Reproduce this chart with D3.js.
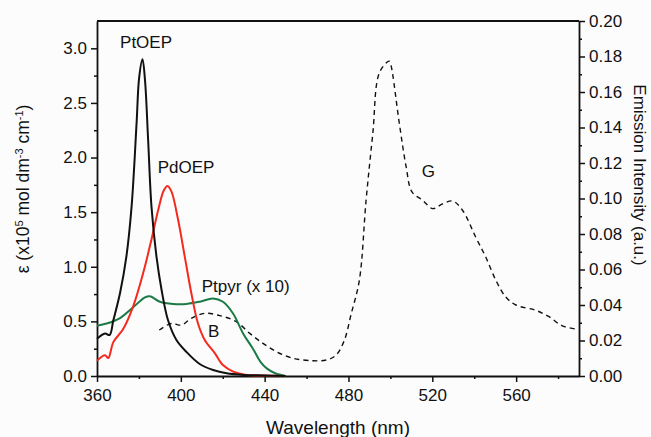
<!DOCTYPE html>
<html>
<head>
<meta charset="utf-8">
<script src="https://cdn.jsdelivr.net/npm/d3@7"></script>
<style>
  body { margin: 0; background: #fcfcfc; }
  text { font-family: "Liberation Sans", Arial, sans-serif; fill: #111; }
</style>
</head>
<body>
<script>
// PtOEP absorption (x10^5 mol dm-3 cm-1)
const ptoepWl = [360, 363.8, 366, 367.8, 371, 374, 376.5, 378.9, 380.1, 381.7, 382.9, 384.4, 386, 388.4, 390.8, 393.9, 397.9, 402.7, 409, 415.4, 421.8, 430, 440, 450];
const ptoepEps = [0.34, 0.39, 0.375, 0.51, 0.76, 1.09, 1.55, 2.32, 2.73, 2.90, 2.71, 2.16, 1.55, 1.09, 0.79, 0.51, 0.33, 0.22, 0.11, 0.055, 0.025, 0.01, 0.005, 0];

// PdOEP absorption
const pdoepWl = [360, 363.8, 365.4, 367.8, 372.5, 377.3, 382, 386, 389.2, 391.9, 393.6, 395.5, 398.7, 401.9, 405, 408.2, 411.4, 416.2, 420.1, 425, 431.3, 440, 450];
const pdoepEps = [0.14, 0.19, 0.165, 0.31, 0.43, 0.64, 0.94, 1.25, 1.52, 1.70, 1.74, 1.69, 1.43, 1.09, 0.76, 0.48, 0.33, 0.21, 0.10, 0.04, 0.01, 0.005, 0];

// Ptpyr absorption (x 10)
const ptpyrWl = [360, 364.6, 371, 377.3, 382.9, 385.3, 390, 396.3, 402.7, 409, 415.4, 420.1, 425, 429.7, 434.4, 438, 441, 445, 450];
const ptpyrEps = [0.46, 0.48, 0.53, 0.63, 0.72, 0.73, 0.68, 0.66, 0.66, 0.68, 0.71, 0.68, 0.57, 0.39, 0.25, 0.13, 0.07, 0.025, 0];

// emission (B + G bands), right axis
const emisWl = [389.7, 395.5, 400.3, 405, 411.4, 418.6, 426.5, 432.9, 439.2, 445.6, 453.5, 463, 469.4, 474.1, 478, 481.3, 485.2, 488.4, 491.6, 494.8, 499.5, 500.3, 504.3, 507.5, 510.3, 515.4, 520.2, 524.9, 529.7, 534.4, 540.8, 545.5, 550.3, 555, 559.9, 569.4, 575.7, 582, 589.2];
const emisInt = [0.0259, 0.0296, 0.0287, 0.0325, 0.0353, 0.034, 0.0306, 0.024, 0.0184, 0.0137, 0.010, 0.0086, 0.009, 0.0118, 0.020, 0.035, 0.054, 0.099, 0.1365, 0.171, 0.1774, 0.175, 0.142, 0.118, 0.1037, 0.099, 0.0943, 0.097, 0.0986, 0.0934, 0.078, 0.067, 0.054, 0.0446, 0.040, 0.037, 0.0334, 0.0283, 0.0263];

const xTicks = [360, 400, 440, 480, 520, 560];
const leftTicks = [0.0, 0.5, 1.0, 1.5, 2.0, 2.5, 3.0];
const rightTicks = [0, 0.02, 0.04, 0.06, 0.08, 0.10, 0.12, 0.14, 0.16, 0.18, 0.20];

const W = 651, H = 437;
const margin = { top: 21, right: 72, bottom: 61, left: 97 };
const width = W - margin.left - margin.right;
const height = H - margin.top - margin.bottom;

const svg = d3.select("body").append("svg")
	.attr("width", W)
	.attr("height", H)
	.style("display", "block");

const g = svg.append("g")
	.attr("transform", `translate(${margin.left},${margin.top})`);

const x = d3.scaleLinear().domain([360, 590]).range([0, width]);
const yL = d3.scaleLinear().domain([0, 3.25]).range([height, 0]);
const yR = d3.scaleLinear().domain([0, 0.2]).range([height, 0]);

// minor ticks
const minor = (axis, values) => axis.tickValues(values).tickSize(3).tickFormat("");

g.append("g").attr("transform", `translate(0,${height})`)
	.call(minor(d3.axisBottom(x), d3.range(380, 590, 40)))
	.call(a => a.select(".domain").remove());
g.append("g")
	.call(minor(d3.axisLeft(yL), d3.range(0.25, 3.25, 0.5)))
	.call(a => a.select(".domain").remove());
g.append("g").attr("transform", `translate(${width},0)`)
	.call(minor(d3.axisRight(yR), d3.range(0.01, 0.2, 0.02)))
	.call(a => a.select(".domain").remove());

// major axes
const fmt1 = d3.format(".1f"), fmt2 = d3.format(".2f");
g.append("g").attr("transform", `translate(0,${height})`)
	.call(d3.axisBottom(x).tickValues(xTicks).tickSize(6).tickPadding(7).tickSizeOuter(0));
g.append("g")
	.call(d3.axisLeft(yL).tickValues(leftTicks).tickFormat(fmt1).tickSize(6).tickPadding(4).tickSizeOuter(0));
g.append("g").attr("transform", `translate(${width},0)`)
	.call(d3.axisRight(yR).tickValues(rightTicks).tickFormat(fmt2).tickSize(6).tickPadding(4).tickSizeOuter(0));

g.selectAll(".tick line").attr("stroke", "#111").attr("stroke-width", 1.5);
g.selectAll(".domain").attr("stroke", "#111").attr("stroke-width", 1.8);
g.selectAll(".tick text").attr("font-size", "17px").attr("font-family", "Liberation Sans, Arial, sans-serif").attr("fill", "#111");

// top border
g.append("line")
	.attr("x1", 0).attr("x2", width)
	.attr("y1", 0).attr("y2", 0)
	.attr("stroke", "#111").attr("stroke-width", 1.8);

const line = yScale => d3.line()
	.x(d => x(d[0]))
	.y(d => yScale(d[1]))
	.curve(d3.curveCatmullRom.alpha(0.5));

const zip = (a, b) => a.map((v, i) => [v, b[i]]);

g.append("path")
	.datum(zip(emisWl, emisInt))
	.attr("d", line(yR))
	.attr("fill", "none")
	.attr("stroke", "#111")
	.attr("stroke-width", 1.4)
	.attr("stroke-dasharray", "5,4");

g.append("path")
	.datum(zip(ptpyrWl, ptpyrEps))
	.attr("d", line(yL))
	.attr("fill", "none")
	.attr("stroke", "#1b7a45")
	.attr("stroke-width", 2);

g.append("path")
	.datum(zip(pdoepWl, pdoepEps))
	.attr("d", line(yL))
	.attr("fill", "none")
	.attr("stroke", "#f42a1e")
	.attr("stroke-width", 2);

g.append("path")
	.datum(zip(ptoepWl, ptoepEps))
	.attr("d", line(yL))
	.attr("fill", "none")
	.attr("stroke", "#111")
	.attr("stroke-width", 2);

// curve labels
const label = (txt, wl, v, scale) => g.append("text")
	.attr("x", x(wl))
	.attr("y", scale(v))
	.attr("font-size", "17px")
	.text(txt);

label("PtOEP", 371, 3.0, yL);
label("PdOEP", 389, 1.86, yL);
label("Ptpyr (x 10)", 410, 0.77, yL);
label("B", 413, 0.0222, yR);
label("G", 515, 0.112, yR);

// axis titles
svg.append("text")
	.attr("x", margin.left + width / 2)
	.attr("y", 434)
	.attr("text-anchor", "middle")
	.attr("font-size", "19px")
	.text("Wavelength (nm)");

const yt = svg.append("text")
	.attr("transform", "translate(29,189) rotate(-90)")
	.attr("text-anchor", "middle")
	.attr("font-size", "17.5px");
yt.append("tspan").text("\u03b5 (x10");
yt.append("tspan").attr("baseline-shift", "super").attr("font-size", "11px").text("5");
yt.append("tspan").text(" mol dm");
yt.append("tspan").attr("baseline-shift", "super").attr("font-size", "11px").text("-3");
yt.append("tspan").text(" cm");
yt.append("tspan").attr("baseline-shift", "super").attr("font-size", "11px").text("-1");
yt.append("tspan").text(")");

svg.append("text")
	.attr("transform", "translate(634,175) rotate(90)")
	.attr("text-anchor", "middle")
	.attr("font-size", "17px")
	.text("Emission Intensity (a.u.)");
</script>
</body>
</html>
